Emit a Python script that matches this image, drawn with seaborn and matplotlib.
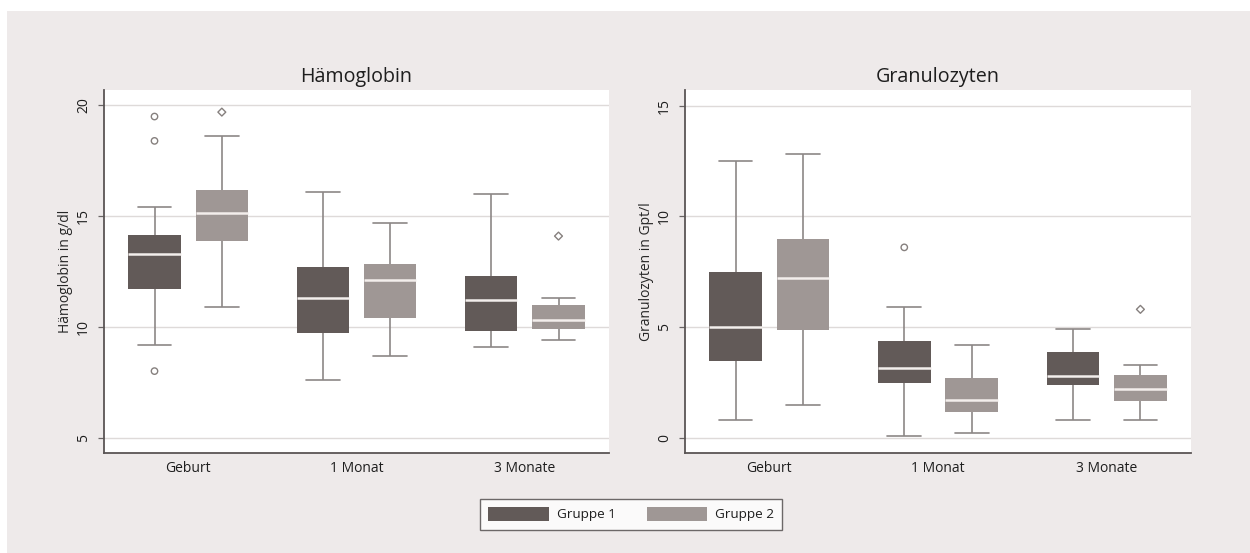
import matplotlib
matplotlib.use("Agg")
import matplotlib.pyplot as plt
import pandas as pd
import seaborn as sns
from matplotlib.patches import Rectangle

# Categories
zeitpunkte = ["Geburt", "1 Monat", "3 Monate"]
gruppen = ["Gruppe 1", "Gruppe 2"]

# Five-number summaries per time point:
# lower whisker, Q1, median, Q3, upper whisker
hb_gruppe1 = [[9.2, 11.7, 13.3, 14.15, 15.4],
              [7.6, 9.7, 11.3, 12.7, 16.1],
              [9.1, 9.8, 11.2, 12.3, 16.0]]
hb_gruppe2 = [[10.9, 13.9, 15.15, 16.2, 18.6],
              [8.7, 10.4, 12.1, 12.85, 14.7],
              [9.4, 9.9, 10.3, 11.0, 11.3]]
granu_gruppe1 = [[0.8, 3.45, 5.0, 7.5, 12.5],
                 [0.1, 2.47, 3.13, 4.38, 5.9],
                 [0.8, 2.38, 2.8, 3.88, 4.9]]
granu_gruppe2 = [[1.5, 4.86, 7.23, 9.0, 12.8],
                 [0.2, 1.17, 1.7, 2.68, 4.2],
                 [0.8, 1.67, 2.2, 2.84, 3.3]]

# Outside values (time point, value)
hb_ausreisser_g1 = [("Geburt", 19.5), ("Geburt", 18.4), ("Geburt", 8.0)]
hb_ausreisser_g2 = [("Geburt", 19.7), ("3 Monate", 14.1)]
granu_ausreisser_g1 = [("1 Monat", 8.6)]
granu_ausreisser_g2 = [("3 Monate", 5.8)]

# Colours
farben = {"Gruppe 1": "#625a58", "Gruppe 2": "#9f9795"}
linienfarbe = "#8c8786"
medianfarbe = "#f3eeec"
punktfarbe = "#86807e"
hintergrund = "#eeeaea"

sns.set_theme(style="white")
plt.rcParams["font.family"] = ["Open Sans", "DejaVu Sans"]
plt.rcParams["text.color"] = "#1e1e1e"


def lang_tabelle(g1, g2):
    zeilen = []
    for gruppe, werte in zip(gruppen, (g1, g2)):
        for zp, fuenf in zip(zeitpunkte, werte):
            zeilen += [(zp, gruppe, v) for v in fuenf]
    return pd.DataFrame(zeilen, columns=["Zeitpunkt", "Gruppe", "Wert"])


def punkt_tabelle(punkte, gruppe):
    return pd.DataFrame([(zp, gruppe, v) for zp, v in punkte],
                        columns=["Zeitpunkt", "Gruppe", "Wert"])


def panel(ax, g1, g2, aus1, aus2, titel, ylabel, ylim, yticks, legende):
    ax.set_facecolor("white")
    sns.boxplot(data=lang_tabelle(g1, g2), x="Zeitpunkt", y="Wert",
                hue="Gruppe", order=zeitpunkte, hue_order=gruppen,
                palette=farben, saturation=1, whis=(0, 100), gap=0.22,
                linecolor=linienfarbe, linewidth=1.2,
                boxprops=dict(edgecolor="none"),
                medianprops=dict(color=medianfarbe, linewidth=1.8),
                capwidths=0.2, legend=legende, ax=ax)
    for punkte, gruppe, marker, groesse in ((aus1, "Gruppe 1", "o", 4.6),
                                            (aus2, "Gruppe 2", "D", 4.0)):
        if punkte:
            sns.stripplot(data=punkt_tabelle(punkte, gruppe), x="Zeitpunkt",
                          y="Wert", hue="Gruppe", order=zeitpunkte,
                          hue_order=gruppen, dodge=True, jitter=False,
                          marker=marker, size=groesse,
                          palette={g: punktfarbe for g in gruppen},
                          edgecolor=punktfarbe, linewidth=1.0,
                          legend=False, ax=ax)
    for coll in ax.collections:
        coll.set_facecolor("none")
        coll.set_edgecolor(punktfarbe)
        coll.set_linewidth(1.0)

    ax.set_ylim(*ylim)
    ax.set_yticks(yticks)
    ax.set_xlim(-0.5, 2.5)
    ax.yaxis.grid(True, color="#dedad9", linewidth=1.0)
    ax.set_axisbelow(True)
    sns.despine(ax=ax)
    for side in ("left", "bottom"):
        ax.spines[side].set_color("#5a5555")
        ax.spines[side].set_linewidth(1.3)
    ax.tick_params(axis="y", length=4.3, width=0.9, color="#6a6565",
                   pad=5, labelsize=10, labelrotation=90, left=True,
                   labelcolor="#1e1e1e")
    for lab in ax.get_yticklabels():
        lab.set_va("center")
    ax.tick_params(axis="x", length=0, pad=6, labelsize=10,
                   labelcolor="#1e1e1e")
    ax.set_xlabel("")
    ax.set_ylabel(ylabel, fontsize=10, labelpad=2)
    ax.set_title(titel, fontsize=14.2, pad=6)


fig = plt.figure(figsize=(12.5, 5.53), dpi=100, facecolor="white")
fig.patches.append(Rectangle((7 / 1250, 0), 1, 1 - 11 / 553,
                             transform=fig.transFigure,
                             facecolor=hintergrund, edgecolor="none",
                             zorder=-10))

ax1 = fig.add_axes([0.0832, 0.1808, 0.404, 0.6565])
ax2 = fig.add_axes([0.548, 0.1808, 0.4048, 0.6565])

panel(ax1, hb_gruppe1, hb_gruppe2, hb_ausreisser_g1, hb_ausreisser_g2,
      "Hämoglobin", "Hämoglobin in g/dl", (4.3, 20.7), [5, 10, 15, 20], True)
panel(ax2, granu_gruppe1, granu_gruppe2, granu_ausreisser_g1,
      granu_ausreisser_g2, "Granulozyten", "Granulozyten in Gpt/l",
      (-0.69, 15.71), [0, 5, 10, 15], False)

handles, labels = ax1.get_legend_handles_labels()
if ax1.get_legend() is not None:
    ax1.get_legend().remove()
for h in handles:
    h.set_edgecolor("none")
leg = fig.legend(handles, labels, loc="center", bbox_to_anchor=(0.505, 0.0705),
                 ncol=2, frameon=True, fancybox=False, fontsize=9.7,
                 handlelength=4.5, handleheight=1.3, handletextpad=0.6,
                 columnspacing=2.3, borderpad=0.6, borderaxespad=0)
leg.get_frame().set_edgecolor("#4a4646")
leg.get_frame().set_linewidth(1.0)
leg.get_frame().set_facecolor("white")

fig.savefig("out.png", dpi=100, facecolor=fig.get_facecolor())
